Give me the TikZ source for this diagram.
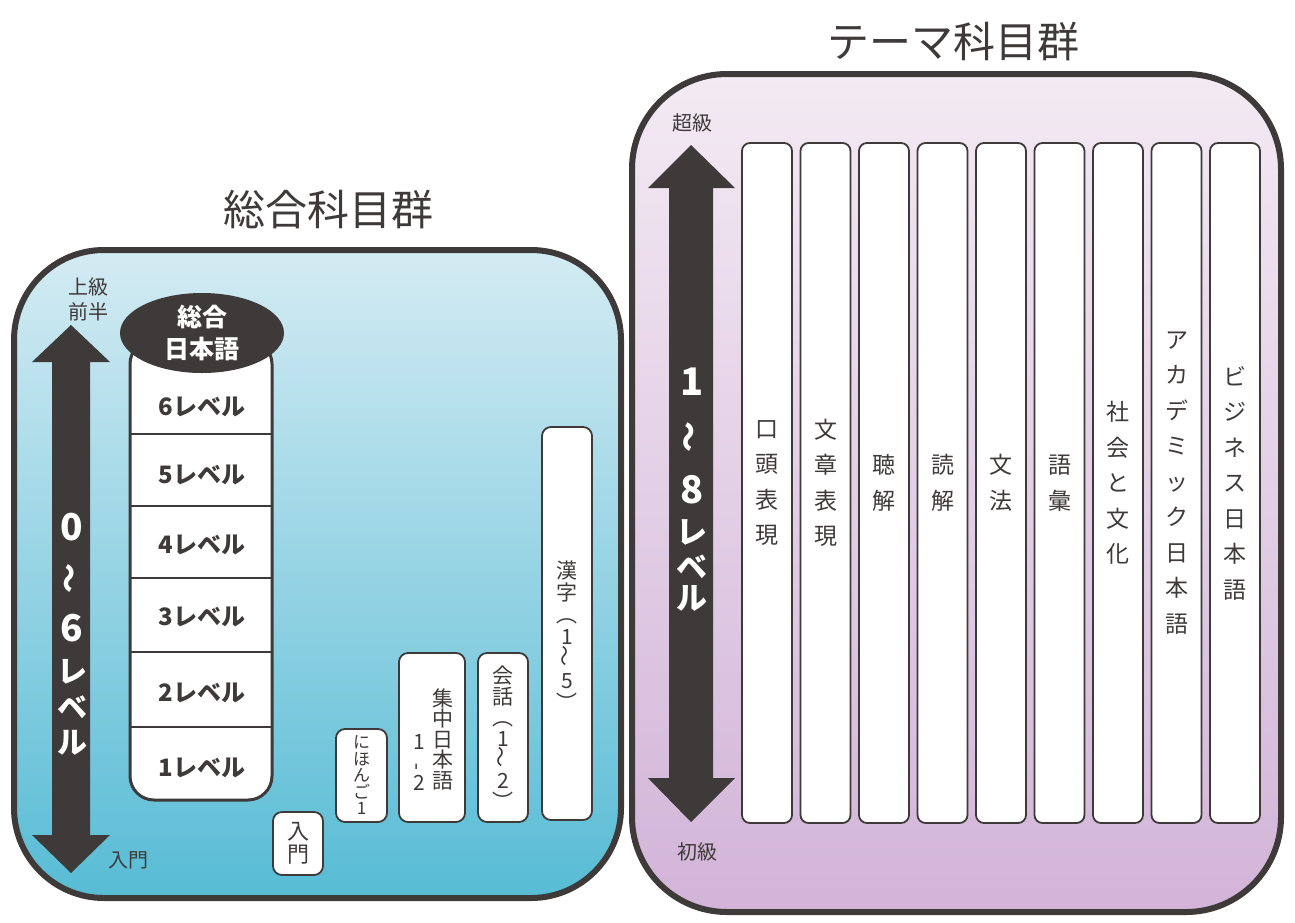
\documentclass[tikz,border=0pt]{standalone}
\usepackage{fontspec}
\setmainfont{Noto Sans CJK JP}
\usepackage{tikz}
\usetikzlibrary{positioning,shapes.geometric}

\definecolor{darkline}{HTML}{3E3A39}
\definecolor{bluetop}{HTML}{D4EBF3}
\definecolor{bluebottom}{HTML}{57BCD5}
\definecolor{pinktop}{HTML}{F3EAF3}
\definecolor{pinkbottom}{HTML}{D2B4D8}

\tikzset{
	title/.style={font=\fontsize{42}{42}\selectfont, text=darkline, inner sep=0pt},
	panel/.style={draw=darkline, line width=6pt},
	sidelabel/.style={font=\fontsize{20}{25}\selectfont, text=darkline, align=center, inner sep=0pt},
	arrowchar/.style={text=white, inner sep=0pt},
	levellabel/.style={font=\fontsize{24}{24}\selectfont\bfseries, text=darkline, inner sep=0pt},
	smallbox/.style={draw=darkline, line width=1.8pt, fill=white, rounded corners=9pt, inner sep=0pt, align=center, text=darkline},
	boxtext/.style={align=center, inner sep=0pt, text=darkline},
	themebox/.style={smallbox, rounded corners=8pt, minimum width=50pt, minimum height=680pt, font=\fontsize{23}{35.5}\selectfont}
}

\newcommand{\vwave}{\rotatebox{90}{〜}}

\begin{document}
\begin{tikzpicture}[x=1pt,y=-1pt]
		\useasboundingbox (0,0) rectangle (1295,922);
		
		\node[title] (sogotitle) at (328,210) {総合科目群}; % title left
		\node[title] (thematitle) at (953,42) {テーマ科目群}; % title right
		
		\draw[panel, rounded corners=90pt, top color=bluetop, bottom color=bluebottom] (14,250) rectangle (621,898); % left panel
		\draw[panel, rounded corners=95pt, top color=pinktop, bottom color=pinkbottom] (632,74) rectangle (1281,912); % right panel
		
		% left level arrow
		\fill[darkline] (52,362) -- (32,362) -- (71,325) -- (110,362) -- (90,362) -- (90,835) -- (110,835) -- (71,873) -- (32,835) -- (52,835) -- cycle;
		\foreach \c/\y/\s [count=\k] in {0/527/37,{\vwave}/578/30,6/628/37,レ/672/30,ベ/707/30,ル/743/30}
			\node[arrowchar, font=\fontsize{\s}{\s}\selectfont\bfseries] (lchar\k) at (72,\y) {\c};
		\node[sidelabel] (jokyu) at (88,299) {上級\\前半};
		\node[sidelabel] (nyumonlabel) at (128,860) {入門};
		
		% right level arrow
		\fill[darkline] (669,188) -- (648,188) -- (691,145) -- (735,188) -- (713,188) -- (713,778) -- (735,778) -- (691,822) -- (648,778) -- (669,778) -- cycle;
		\foreach \c/\y/\s [count=\k] in {1/382/38,{\vwave}/437/31,8/490/38,レ/532/31,ベ/567/31,ル/598/31}
			\node[arrowchar, font=\fontsize{\s}{\s}\selectfont\bfseries] (rchar\k) at (692,\y) {\c};
		\node[sidelabel] (chokyu) at (692,123) {超級};
		\node[sidelabel] (shokyu) at (697,852) {初級};
		
		% sogo nihongo stack
		\draw[darkline, line width=3pt, fill=white, rounded corners=24pt] (130,340) rectangle (272,800);
		\foreach \y in {434,506,578,652,727}
			\draw[darkline, line width=2.5pt] (130,\y) -- (272,\y);
		\foreach \n/\y in {6/407,5/475,4/545,3/617,2/693,1/768}
			\node[levellabel] (lv\n) at (202,\y) {\n レベル};
		\node[ellipse, fill=darkline, minimum width=164pt, minimum height=80pt, inner sep=0pt,
			text=white, align=center, font=\fontsize{25}{32}\selectfont\bfseries] (sogo) at (202,333) {総合\\日本語};
		
		% small courses
		\node[smallbox, minimum width=50pt, minimum height=63pt, font=\fontsize{22}{23}\selectfont] (nyumon) at (298,843.5) {入\\門};
		\node[smallbox, minimum width=51pt, minimum height=93pt, font=\fontsize{17}{16.5}\selectfont] (nihongo) at (361.5,775.5) {に\\ほ\\ん\\ご\\1};
		\node[smallbox, minimum width=66pt, minimum height=169pt] (shuchu) at (432,737.5) {};
		\node[boxtext, font=\fontsize{21}{20.5}\selectfont] (shuchua) at ([xshift=11pt,yshift=-1.5pt]shuchu.center) {集\\中\\日\\本\\語};
		\node[boxtext, font=\fontsize{21}{20.5}\selectfont] (shuchub) at ([xshift=-13pt,yshift=-25pt]shuchu.center) {1\\\rotatebox{90}{-}\\2};
		\node[smallbox, minimum width=50pt, minimum height=169pt, font=\fontsize{21}{21}\selectfont] (kaiwa) at (503,737.5) {会\\話\\︵\\1\\\vwave\\2\\︶};
		\node[smallbox, minimum width=50pt, minimum height=393pt] (kanji) at (567,623.5) {};
		\node[boxtext, font=\fontsize{21}{22}\selectfont] (kanjitxt) at ([yshift=-12pt]kanji.center) {漢\\字\\︵\\1\\\vwave\\5\\︶};
		
		% theme courses
		\foreach \txt [count=\i from 0] in {{口\\頭\\表\\現},{文\\章\\表\\現},{聴\\解},{読\\解},{文\\法},{語\\彙},{社\\会\\と\\文\\化},{ア\\カ\\デ\\ミ\\ッ\\ク\\日\\本\\語},{ビ\\ジ\\ネ\\ス\\日\\本\\語}}
			\node[themebox] (theme\i) at ({767+58.5*\i},483) {\txt};
		
\end{tikzpicture}
\end{document}
